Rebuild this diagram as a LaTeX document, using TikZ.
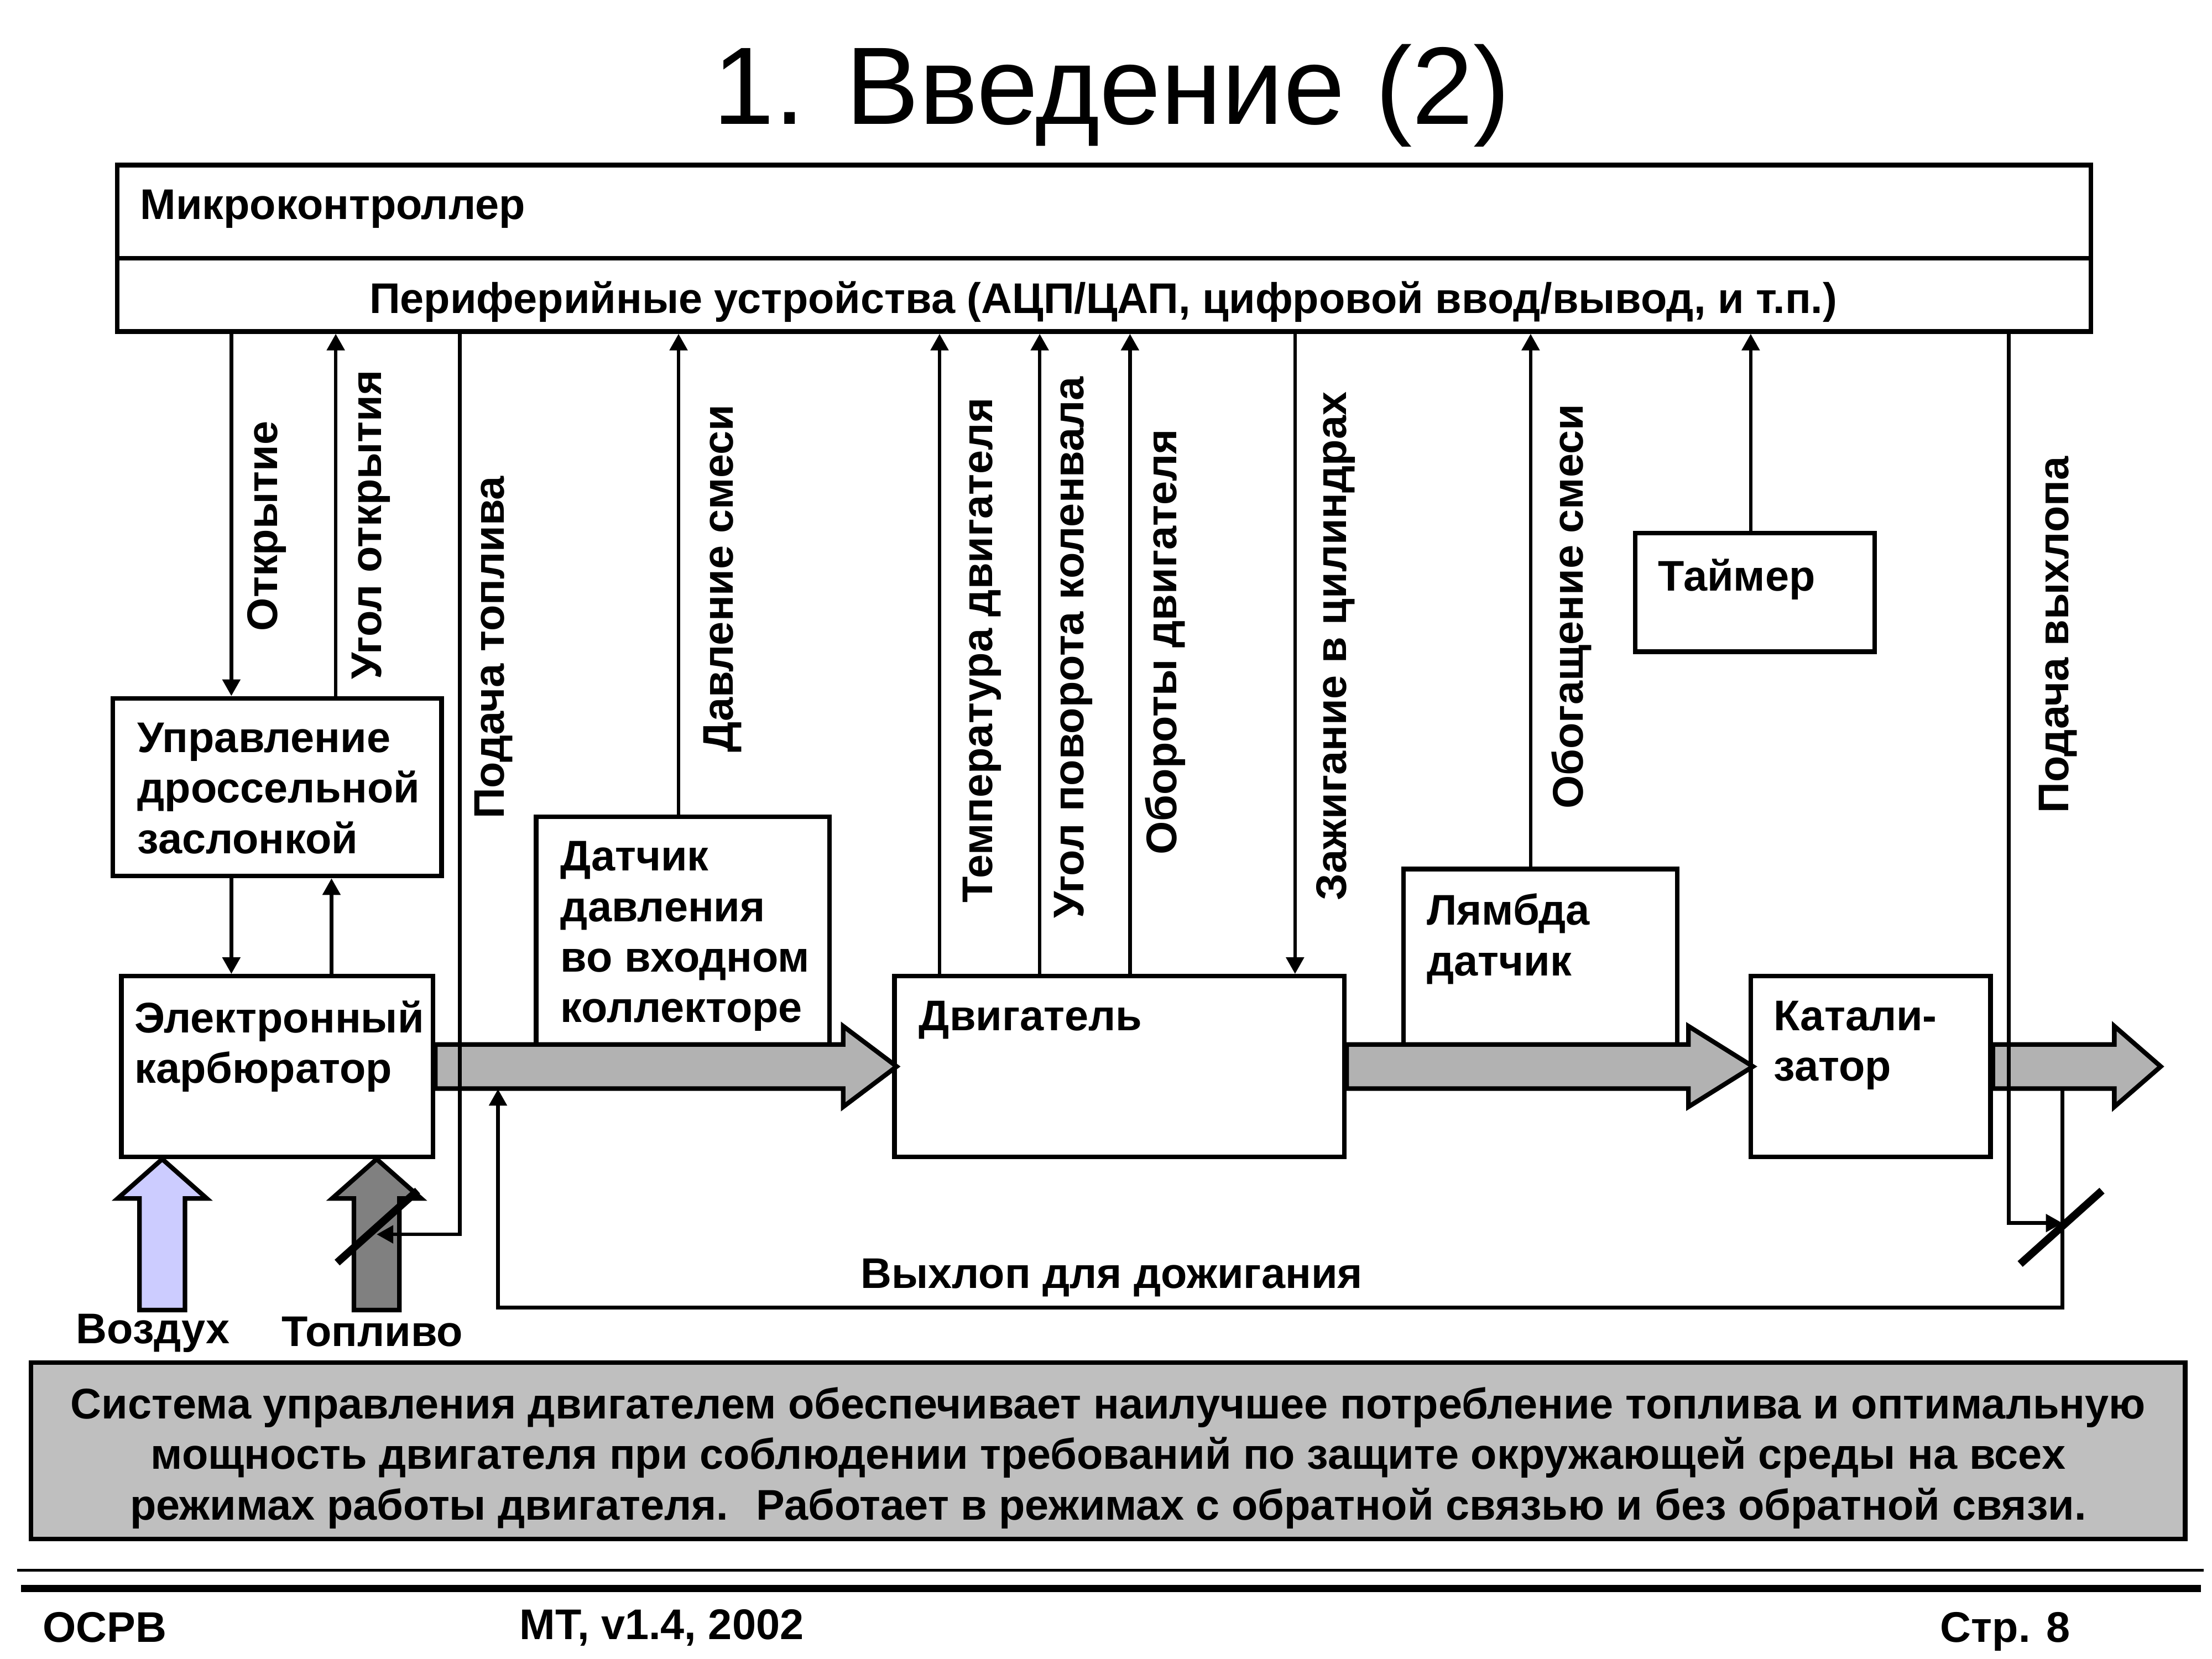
\documentclass[tikz,border=0pt]{standalone}
\usepackage{fontspec}
\setmainfont{Liberation Sans}
\usetikzlibrary{arrows.meta, shapes.arrows, fit}

\definecolor{airblue}{HTML}{CCCCFF}

\begin{document}
\begin{tikzpicture}[
    x=0.16199mm, y=-0.16199mm,
    font=\fontsize{14}{16.5}\selectfont\bfseries,
    box/.style = {rectangle, draw=black, fill=white, line width=1.5pt, inner sep=0pt},
    boxtext/.style = {anchor=north west, inner sep=0pt, align=left},
    vlabel/.style = {rotate=90, inner sep=0pt},
    sig/.style = {line width=1.2pt, -{Triangle[length=1.9mm, width=2mm]}},
    flow/.style = {single arrow, draw=black, fill=black!30, line width=1.5pt,
                   inner xsep=0pt, inner ysep=2.27mm, minimum width=8.75mm,
                   single arrow head extend=2.1mm, single arrow tip angle=74,
                   outer sep=0pt, anchor=tail},
    feed/.style = {flow, rotate=90, anchor=tip, minimum height=17.33mm,
                   minimum width=10.04mm, inner ysep=2.35mm,
                   single arrow head extend=2.5mm, single arrow tip angle=97},
    valve/.style = {line width=2.5pt}
]
    \useasboundingbox (0,0) rectangle (1568,1176);

    % Title
    \node[font=\fontsize{36}{43}\selectfont\mdseries, anchor=base] (title) at (788,88) {1. Введение (2)};

    % Microcontroller
    \node[box, fit={(83,117) (1482,183)}] (mcu) {};
    \node[box, fit={(83,183) (1482,235)}] (periph) {};
    \node[anchor=base west, inner sep=0pt] (mcutext) at (99,155.6) {Микроконтроллер};
    \node[anchor=base, inner sep=0pt] (periphtext) at (782,222) {Периферийные устройства (АЦП/ЦАП, цифровой ввод/вывод, и т.п.)};

    % Blocks
    \node[box, fit={(80,495) (313,621)}] (throttle) {};
    \node[box, fit={(86,692) (307,820)}] (carb) {};
    \node[box, fit={(380,579) (588,742)}] (sensor) {};
    \node[box, fit={(634,692) (953,820)}] (engine) {};
    \node[box, fit={(995,616) (1189,744)}] (lambda) {};
    \node[box, fit={(1159,378) (1329,462)}] (timer) {};
    \node[box, fit={(1241,692) (1411,820)}] (cat) {};

    % Gas flow
    \node[flow, minimum height=52.97mm] (flowA) at (carb.east) {};
    \node[flow, minimum height=46.65mm, single arrow tip angle=64] (flowB) at (engine.east) {};
    \node[flow, minimum height=19.28mm, single arrow tip angle=82] (flowC) at (cat.east) {};
    \node[feed, fill=airblue] (air) at (115,0 |- carb.south) {};
    \node[feed, fill=black!50] (fuel) at (267,0 |- carb.south) {};

    % Block texts
    \node[boxtext] (throttletext) at (97,512) {Управление\\дроссельной\\заслонкой};
    \node[boxtext] (carbtext) at (95,709) {Электронный\\карбюратор};
    \node[boxtext] (sensortext) at (397,596) {Датчик\\давления\\во входном\\коллекторе};
    \node[boxtext] (enginetext) at (651,709) {Двигатель};
    \node[boxtext] (lambdatext) at (1011,633) {Лямбда\\датчик};
    \node[boxtext] (timertext) at (1175,396) {Таймер};
    \node[boxtext] (cattext) at (1257,709) {Катали-\\затор};

    % Signals
    \draw[sig] (164,0 |- periph.south) -- (164,0 |- throttle.north);
    \draw[sig] (238,0 |- throttle.north) -- (238,0 |- periph.south);
    \draw[sig] (164,0 |- throttle.south) -- (164,0 |- carb.north);
    \draw[sig] (235,0 |- carb.north) -- (235,0 |- throttle.south);
    \draw[sig] (481,0 |- sensor.north) -- (481,0 |- periph.south);
    \foreach \x in {666,737,801}
        \draw[sig] (\x,0 |- engine.north) -- (\x,0 |- periph.south);
    \draw[sig] (918,0 |- periph.south) -- (918,0 |- engine.north);
    \draw[sig] (1085,0 |- lambda.north) -- (1085,0 |- periph.south);
    \draw[sig] (1241,0 |- timer.north) -- (1241,0 |- periph.south);

    % Fuel valve
    \coordinate (fuelvalve) at (fuel.center |- 0,875);
    \draw[sig] (326,0 |- periph.south) |- (fuelvalve);
    \draw[valve] (239,895) -- (296,844);

    % Exhaust return
    \coordinate (exin) at (1462,772);
    \coordinate (exout) at (353,772);
    \coordinate (exvalve) at (1462,867);
    \draw[sig] (exin) -- (1462,927) -| (exout);
    \draw[sig] (1424,0 |- periph.south) |- (exvalve);
    \draw[valve] (1432,896) -- (1490,844);

    % Signal labels
    \node[vlabel] (l-open) at (189,373) {Открытие};
    \node[vlabel] (l-angle) at (263,372) {Угол открытия};
    \node[vlabel] (l-fuel) at (350,459) {Подача топлива};
    \node[vlabel] (l-press) at (512,410) {Давление смеси};
    \node[vlabel] (l-temp) at (696,461) {Температура двигателя};
    \node[vlabel] (l-crank) at (761,459) {Угол поворота коленвала};
    \node[vlabel] (l-rpm) at (826,455) {Обороты двигателя};
    \node[vlabel] (l-ign) at (947,458) {Зажигание в цилиндрах};
    \node[vlabel] (l-rich) at (1114,430) {Обогащение смеси};
    \node[vlabel] (l-exh) at (1459,450) {Подача выхлопа};

    \node[anchor=base] (airlbl) at (108.5,952.5) {Воздух};
    \node[anchor=base] (fuellbl) at (264,954.5) {Топливо};
    \node[anchor=base] (exlbl) at (788,913) {Выхлоп для дожигания};

    % Summary
    \node[box, fill=black!25, fit={(22,966) (1549,1091)}] (note) {};
    \node[align=center, anchor=north, inner sep=0pt] (notetext) at (785.5,983) {Система управления двигателем обеспечивает наилучшее потребление топлива и оптимальную\\мощность двигателя при соблюдении требований по защите окружающей среды на всех\\режимах работы двигателя.~ Работает в режимах с обратной связью и без обратной связи.};

    % Footer
    \draw[line width=1pt] (12,1113) -- (1562,1113);
    \draw[line width=2.2pt] (15,1126) -- (1560,1126);
    \node[anchor=base west, inner sep=0pt] (org) at (30,1164) {ОСРВ};
    \node[anchor=base west, inner sep=0pt] (ver) at (368,1162) {МТ, v1.4, 2002};
    \node[anchor=base west, inner sep=0pt] (page) at (1375,1164) {Стр. 8};
\end{tikzpicture}
\end{document}
